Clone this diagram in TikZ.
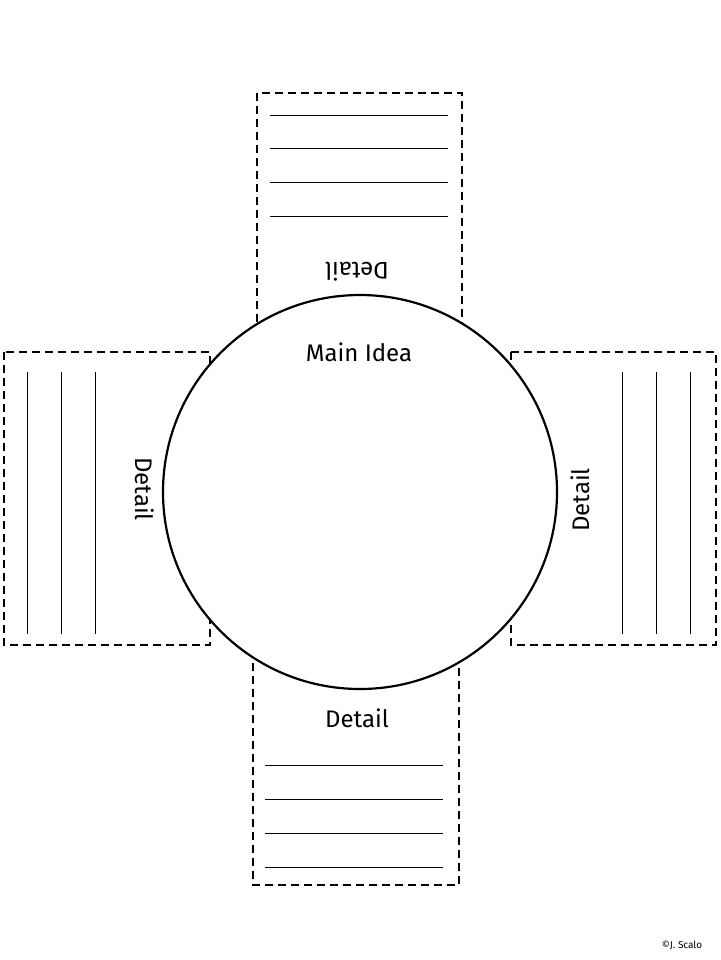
\documentclass[tikz,border=0pt]{standalone}
\usepackage{fontspec}
\setmainfont{Fira Sans}
\begin{document}
\begin{tikzpicture}[x=1pt,y=-1pt,
  dbox/.style={draw,line width=2.2pt,dash pattern=on 8pt off 5pt},
  rule/.style={line width=0.8pt},
  lbl/.style={font=\fontsize{24}{28}\selectfont}]
\useasboundingbox[fill=white] (0,0) rectangle (720,960);
\draw[dbox] (257,93) rectangle (462,330);
\draw[dbox] (4,352) rectangle (210,645);
\draw[dbox] (511,352) rectangle (716,645);
\draw[dbox] (253,650) rectangle (459,885);
\foreach \y in {115,148,182,216} \draw[rule] (270,\y) -- (448,\y);
\foreach \y in {765,799,833,867} \draw[rule] (265,\y) -- (443,\y);
\foreach \x in {27,61,95} \draw[rule] (\x,372) -- (\x,634);
\foreach \x in {622,656,690} \draw[rule] (\x,372) -- (\x,634);
\node[circle,draw,line width=2.2pt,fill=white,minimum size=394pt] (c) at (360,492) {};
\node[lbl] (main) at (359,352) {Main Idea};
\node[lbl,rotate=180] (dt) at (357,272) {Detail};
\node[lbl,rotate=-90] (dl) at (145,489) {Detail};
\node[lbl,rotate=90] (dr) at (580,500) {Detail};
\node[lbl] (db) at (357,718) {Detail};
\node[font=\fontsize{10}{12}\selectfont] (cr) at (682,945) {©J. Scalo};
\end{tikzpicture}
\end{document}
